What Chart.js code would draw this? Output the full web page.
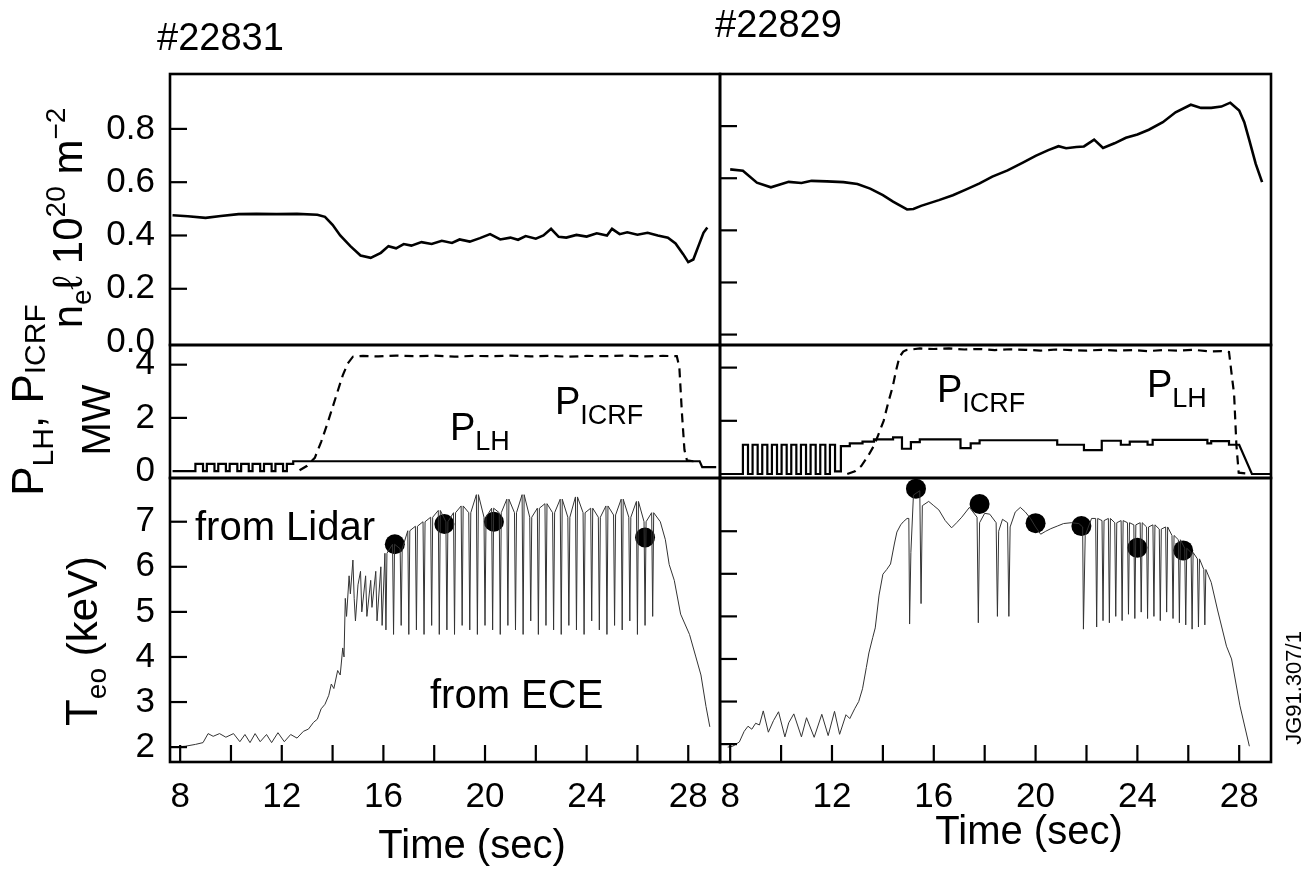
<!DOCTYPE html>
<html lang="en">
<head>
<meta charset="utf-8" />
<title>#22831 / #22829</title>
<script src="https://cdn.jsdelivr.net/npm/chart.js"></script>
<style>
  body { margin: 0; background: #fff; }
  #fig { position: relative; width: 1313px; height: 869px; overflow: hidden; background: #fff; }
  #fig canvas { position: absolute; }
</style>
</head>
<body>
<div id="fig">
  <canvas id="nL" width="722" height="390" style="left:0;top:0"></canvas>
  <canvas id="pL" width="722" height="250" style="left:0;top:270px"></canvas>
  <canvas id="tL" width="722" height="439" style="left:0;top:430px"></canvas>
  <canvas id="nR" width="613" height="390" style="left:700px;top:0"></canvas>
  <canvas id="pR" width="613" height="250" style="left:700px;top:270px"></canvas>
  <canvas id="tR" width="613" height="439" style="left:700px;top:430px"></canvas>
</div>

<script>
// ---- axes ----
const timeTicks = [8, 10, 12, 14, 16, 18, 20, 22, 24, 26, 28];
const neTicks = [0, 0.2, 0.4, 0.6, 0.8];
const powerTicks = [0, 2, 4];
const teTicks = [2, 3, 4, 5, 6, 7];

// ---- #22831 (left) ----
// line density n_e l (1e20 m^-2)
const neLeft = [[7.7,0.476],[8.3,0.472],[9.0,0.466],[9.6,0.473],[10.3,0.48],[11.0,0.481],[11.8,0.48],
  [12.6,0.481],[13.4,0.478],[13.7,0.47],[14.0,0.44],[14.3,0.40],[14.7,0.36],[15.1,0.325],[15.5,0.316],
  [15.9,0.335],[16.2,0.36],[16.5,0.352],[16.8,0.368],[17.1,0.362],[17.5,0.375],[17.9,0.368],[18.3,0.38],
  [18.7,0.372],[19.0,0.385],[19.4,0.377],[19.8,0.39],[20.2,0.405],[20.6,0.385],[21.0,0.392],[21.3,0.384],
  [21.6,0.398],[22.0,0.388],[22.3,0.40],[22.6,0.425],[22.9,0.395],[23.2,0.392],[23.6,0.402],[24.0,0.396],
  [24.4,0.408],[24.8,0.40],[25.0,0.425],[25.3,0.405],[25.6,0.412],[26.0,0.403],[26.4,0.41],[26.8,0.40],
  [27.2,0.392],[27.5,0.37],[27.8,0.33],[28.0,0.30],[28.2,0.31],[28.4,0.36],[28.6,0.41],[28.75,0.43]];
// P_LH (solid) and P_ICRF (dashed), MW
const pLhLeft = [[7.7,0],[8.6,0],[8.6,0.27],[8.9,0.27],[8.9,0],[9.05,0],[9.05,0.27],[9.35,0.27],[9.35,0],
  [9.5,0],[9.5,0.27],[9.8,0.27],[9.8,0],[9.95,0],[9.95,0.27],[10.25,0.27],[10.25,0],[10.4,0],[10.4,0.27],
  [10.7,0.27],[10.7,0],[10.85,0],[10.85,0.27],[11.15,0.27],[11.15,0],[11.3,0],[11.3,0.27],[11.6,0.27],
  [11.6,0],[11.75,0],[11.75,0.27],[12.05,0.27],[12.05,0],[12.2,0],[12.2,0.27],[12.45,0.27],[12.45,0.37],
  [28.45,0.37],[28.55,0.15],[29.1,0.15]];
const pIcrfLeft = [[12.7,0.03],[13.0,0.2],[13.3,0.5],[13.55,1.1],[13.8,1.8],[14.0,2.4],[14.2,3.0],[14.4,3.6],
  [14.6,4.05],[14.8,4.3],[15.2,4.33],[15.8,4.31],[16.5,4.34],[17.2,4.32],[18.0,4.34],[18.8,4.3],[19.5,4.33],
  [20.3,4.32],[21.0,4.34],[21.8,4.31],[22.5,4.33],[23.3,4.3],[24.0,4.33],[24.8,4.32],[25.5,4.34],[26.3,4.31],
  [27.0,4.33],[27.55,4.32],[27.65,3.9],[27.75,2.2],[27.85,0.8],[27.95,0.4],[28.2,0.37],[28.45,0.37]];
// Te0 from ECE (keV): rise, sawtooth crashes [t, top, bottom], decay
const teLeftHead = [[7.7,2.0],[8.2,2.02],[8.6,2.06],[8.9,2.1],[9.1,2.3],[9.3,2.24],[9.55,2.3],[9.8,2.22],
  [10.1,2.3],[10.35,2.12],[10.55,2.28],[10.75,2.1],[10.95,2.3],[11.15,2.12],[11.4,2.28],[11.6,2.1],
  [11.85,2.32],[12.1,2.12],[12.35,2.28],[12.6,2.2],[12.85,2.35],[13.05,2.4],[13.25,2.55],[13.4,2.62],
  [13.55,2.85],[13.7,2.95],[13.85,3.15],[13.95,3.4],[14.05,3.3],[14.2,3.7],[14.3,3.6],[14.4,4.2],
  [14.45,4.0],[14.5,5.3],[14.55,4.9],[14.65,5.8],[14.7,5.4],[14.8,6.15],[14.85,5.3],[14.9,4.8],[15.0,5.6],
  [15.1,5.9],[15.15,5.0],[15.3,5.8],[15.35,4.9],[15.5,5.7],[15.55,5.1],[15.7,5.9],[15.75,4.8],[15.9,6.0],
  [15.95,4.7]];
const teLeftCrash = [[16.1,6.3,4.6],[16.4,6.5,4.5],[16.7,6.4,4.7],[17.0,6.8,4.5],[17.3,6.9,4.6],[17.6,7.0,4.5],
  [17.9,7.1,4.7],[18.2,7.25,4.5],[18.5,7.0,4.6],[18.8,7.2,4.5],[19.1,7.35,4.7],[19.4,7.2,4.6],[19.7,7.6,4.5],
  [20.0,7.1,4.7],[20.3,7.3,4.6],[20.6,7.2,4.5],[20.9,7.5,4.7],[21.2,7.2,4.6],[21.5,7.6,4.5],[21.8,7.1,4.8],
  [22.1,7.3,4.5],[22.4,7.4,4.7],[22.7,7.2,4.6],[23.0,7.5,4.5],[23.3,7.1,4.7],[23.6,7.55,4.6],[23.9,7.2,4.5],
  [24.2,7.3,4.8],[24.5,7.1,4.6],[24.8,7.35,4.5],[25.1,7.15,4.7],[25.4,7.5,4.6],[25.7,7.1,4.8],[26.0,7.45,4.5],
  [26.3,7.0,4.7],[26.6,7.2,4.9]];
const teLeftTail = [[26.9,7.0],[27.1,6.6],[27.25,6.05],[27.45,5.7],[27.7,4.95],[28.05,4.5],[28.3,4.0],
  [28.5,3.6],[28.7,2.9],[28.85,2.45]];
// Te0 from Lidar
const lidarLeft = [[16.45,6.5],[18.4,6.95],[20.35,7.0],[26.3,6.65]];

// ---- #22829 (right) ----
const neRight = [[8.0,0.634],[8.5,0.629],[9.05,0.583],[9.6,0.565],[10.3,0.586],[10.8,0.582],[11.2,0.59],
  [11.8,0.588],[12.45,0.585],[13.0,0.578],[13.5,0.56],[14.0,0.535],[14.4,0.51],[14.95,0.48],[15.2,0.482],
  [15.5,0.494],[16.2,0.516],[16.75,0.535],[17.3,0.558],[17.8,0.58],[18.3,0.606],[18.9,0.63],[19.5,0.66],
  [20.0,0.686],[20.5,0.708],[20.9,0.723],[21.2,0.715],[21.6,0.72],[21.9,0.722],[22.3,0.748],[22.65,0.716],
  [23.1,0.734],[23.55,0.755],[24.0,0.768],[24.45,0.786],[25.0,0.815],[25.5,0.853],[26.1,0.882],[26.5,0.87],
  [26.9,0.87],[27.3,0.875],[27.65,0.89],[28.0,0.86],[28.2,0.815],[28.4,0.745],[28.65,0.655],[28.9,0.585]];
const pLhRight = [[7.6,0],[8.5,0],[8.5,1.1],[8.7,1.1],[8.7,0],[8.88,0],[8.88,1.1],[9.08,1.1],[9.08,0],
  [9.26,0],[9.26,1.1],[9.46,1.1],[9.46,0],[9.64,0],[9.64,1.1],[9.84,1.1],[9.84,0],[10.02,0],[10.02,1.1],
  [10.22,1.1],[10.22,0],[10.4,0],[10.4,1.1],[10.6,1.1],[10.6,0],[10.78,0],[10.78,1.1],[10.98,1.1],[10.98,0],
  [11.16,0],[11.16,1.1],[11.36,1.1],[11.36,0],[11.54,0],[11.54,1.1],[11.74,1.1],[11.74,0],[11.92,0],
  [11.92,1.1],[12.12,1.1],[12.12,0.1],[12.35,0.1],[12.35,1.05],[12.7,1.05],[12.7,1.15],[13.2,1.15],[13.2,1.22],
  [13.65,1.22],[13.65,1.3],[14.4,1.3],[14.4,1.38],[14.75,1.38],[14.75,0.95],[15.1,0.95],[15.1,1.2],
  [15.45,1.2],[15.45,1.3],[17.05,1.3],[17.05,0.97],[17.45,0.97],[17.45,1.15],[17.8,1.15],[17.8,1.27],
  [20.85,1.27],[20.85,1.1],[21.9,1.1],[21.9,0.9],[22.6,0.9],[22.6,1.25],[23.35,1.25],[23.35,1.1],[23.7,1.1],
  [23.7,1.22],[24.4,1.22],[24.4,1.1],[24.6,1.1],[24.6,1.28],[26.75,1.28],[26.75,1.15],[26.9,1.15],
  [26.9,1.24],[27.6,1.24],[27.6,1.1],[28.0,1.1],[28.5,0],[29.3,0]];
const pIcrfRight = [[12.6,0.0],[12.9,0.1],[13.15,0.3],[13.4,0.65],[13.67,1.1],[13.85,1.55],[14.03,2.0],
  [14.2,2.65],[14.39,3.3],[14.52,3.9],[14.65,4.4],[14.8,4.6],[14.92,4.66],[15.46,4.72],[16.0,4.7],
  [16.6,4.72],[17.2,4.68],[17.8,4.7],[18.4,4.66],[19.0,4.69],[19.6,4.67],[20.2,4.64],[20.8,4.68],[21.4,4.66],
  [22.0,4.64],[22.6,4.67],[23.2,4.64],[23.8,4.66],[24.4,4.62],[25.0,4.66],[25.6,4.64],[26.2,4.67],[26.8,4.61],
  [27.3,4.62],[27.6,4.59],[27.71,3.7],[27.8,3.0],[27.89,1.1],[27.98,0.05],[28.5,0]];
const teRightHead = [[7.9,1.93],[8.1,1.95],[8.36,2.05],[8.55,2.3],[8.7,2.42],[8.85,2.35],[9.0,2.49],
  [9.15,2.45],[9.3,2.78],[9.5,2.28],[9.7,2.55],[9.9,2.76],[10.15,2.17],[10.3,2.5],[10.5,2.71],[10.8,2.17],
  [11.0,2.62],[11.3,2.16],[11.6,2.7],[11.85,2.2],[12.1,2.77],[12.3,2.23],[12.55,2.69],[12.7,2.6],[12.9,2.84],
  [13.05,3.0],[13.2,3.3],[13.35,3.8],[13.45,4.14],[13.6,4.5],[13.7,4.73],[13.85,5.5],[14.0,5.99],[14.15,6.1],
  [14.3,6.23],[14.45,6.7],[14.55,6.98],[14.7,7.15],[14.8,7.22],[14.95,7.3],[15.02,7.3],[15.05,4.82],
  [15.1,6.5],[15.2,7.85],[15.45,7.95],[15.5,5.3],[15.55,7.6],[15.8,7.7],[16.0,7.6],[16.2,7.5],[16.45,7.25],
  [16.7,7.08],[16.9,7.2],[17.1,7.33],[17.4,7.56],[17.7,7.33],[17.75,4.85],[17.8,7.2],[18.0,7.42],[18.2,7.4],
  [18.45,7.2],[18.5,5.0],[18.55,7.0],[18.7,7.28],[18.9,7.2],[18.95,5.0],[19.0,7.1],[19.2,7.45],[19.4,7.56],
  [19.6,7.45],[19.8,7.3],[20.0,7.1],[20.2,6.93],[20.4,7.0],[20.6,7.06],[20.85,7.12],[21.1,7.18],[21.4,7.2],
  [21.7,7.18],[21.85,7.1],[21.88,4.7],[21.95,6.9],[22.2,7.3]];
const teRightCrash = [[22.4,7.3,4.75],[22.65,7.25,4.9],[22.9,7.3,4.85],[23.15,7.2,5.0],[23.4,7.25,4.9],
  [23.65,7.2,5.05],[23.9,7.15,4.95],[24.15,7.2,5.1],[24.4,7.1,4.95],[24.65,7.15,5.0],[24.9,7.05,4.9],
  [25.15,7.1,5.1],[25.4,6.9,4.95],[25.65,6.8,4.85],[25.9,6.6,4.8],[26.15,6.5,4.7],[26.4,6.35,4.75],
  [26.65,6.1,4.8]];
const teRightTail = [[26.9,5.8],[27.15,5.15],[27.5,4.3],[27.7,4.0],[28.03,2.9],[28.4,1.95]];
const lidarRight = [[15.3,8.0],[17.8,7.64],[20.0,7.19],[21.8,7.12],[24.0,6.61],[25.8,6.55]];

// ---- helpers ----
const FONT = "'Liberation Sans', Arial, Helvetica, sans-serif";
const T_MIN = 7.6, T_MAX = 29.25;
const CRASH_HALF = 0.04; // half width of a drawn sawtooth crash (s)

const pts = arr => arr.map(([x, y]) => ({ x, y }));
// each crash drawn as a narrow downward spike from the envelope value
const sawtooth = (head, crash, tail) =>
  pts([...head,
       ...crash.flatMap(([t, top, bot]) => [[t - CRASH_HALF, top], [t, bot], [t + CRASH_HALF, top]]),
       ...tail]);

// frame around the panel and short inward tick marks
const frameTicks = {
  id: 'frameTicks',
  afterDatasetsDraw(chart) {
    const { ctx, chartArea: a, scales } = chart;
    ctx.save();
    ctx.strokeStyle = '#000';
    ctx.lineWidth = 2.6;
    ctx.strokeRect(a.left, a.top, a.right - a.left, a.bottom - a.top);
    ctx.lineWidth = 2.2;
    scales.y.ticks.forEach(t => {
      const py = scales.y.getPixelForValue(t.value);
      if (py > a.bottom - 8 || py < a.top + 8) return;
      ctx.beginPath(); ctx.moveTo(a.left, py); ctx.lineTo(a.left + 17, py); ctx.stroke();
    });
    if (scales.x.options.display) {
      scales.x.ticks.forEach(t => {
        const px = scales.x.getPixelForValue(t.value);
        ctx.beginPath(); ctx.moveTo(px, a.bottom); ctx.lineTo(px, a.bottom - 17); ctx.stroke();
      });
    }
    ctx.restore();
  }
};

// free text (page coordinates), optional rotation and sub/superscripts
function notesPlugin(notes) {
  return {
    id: 'notes',
    afterDraw(chart) {
      const ctx = chart.ctx;
      const ox = chart.canvas.offsetLeft, oy = chart.canvas.offsetTop;
      notes.forEach(n => {
        ctx.save();
        ctx.fillStyle = '#000';
        ctx.textBaseline = 'alphabetic';
        ctx.translate(n.x - ox, n.y - oy);
        if (n.rotate) ctx.rotate(-Math.PI / 2);
        let w = 0;
        n.parts.forEach(p => { ctx.font = p.size + 'px ' + FONT; w += ctx.measureText(p.t).width; });
        let x = n.align === 'center' ? -w / 2 : 0;
        n.parts.forEach(p => {
          ctx.font = p.size + 'px ' + FONT;
          ctx.fillText(p.t, x, p.dy || 0);
          x += ctx.measureText(p.t).width;
        });
        ctx.restore();
      });
    }
  };
}

function panel(id, o) {
  return new Chart(document.getElementById(id), {
    type: 'line',
    data: { datasets: o.datasets },
    options: {
      responsive: false,
      animation: false,
      devicePixelRatio: 1,
      events: [],
      layout: { padding: o.padding, autoPadding: false },
      plugins: { legend: { display: false }, tooltip: { enabled: false } },
      scales: {
        x: {
          type: 'linear', min: T_MIN, max: T_MAX, display: !!o.showX,
          afterBuildTicks: s => { s.ticks = timeTicks.map(v => ({ value: v })); },
          afterFit: s => {
            if (o.showX) s.height = 107;
            s.paddingLeft = 0; s.paddingRight = 0;   // keep the plot width fixed
          },
          // invisible tick marks only push the labels down (inward marks are drawn by frameTicks)
          grid: { display: true, drawOnChartArea: false, drawTicks: true, tickLength: 14, color: 'rgba(0,0,0,0)' },
          border: { display: false },
          ticks: {
            padding: 0, color: '#000', maxRotation: 0, autoSkip: false,
            font: { family: FONT, size: 35 },
            callback: v => (v % 4 === 0 ? String(v) : '')
          }
        },
        y: {
          type: 'linear', min: o.min, max: o.max,
          afterBuildTicks: s => { s.ticks = o.ticks.map(v => ({ value: v })); },
          afterFit: s => { s.width = o.axisW; s.paddingTop = 0; s.paddingBottom = 0; },
          grid: { display: false, drawTicks: false },
          border: { display: false },
          ticks: {
            display: !!o.labels, padding: 15, color: '#000',
            font: { family: FONT, size: 35 },
            callback: o.fmt || (v => String(v))
          }
        }
      }
    },
    plugins: [frameTicks, notesPlugin(o.notes || [])]
  });
}

const solid = (data, w) => ({ data: pts(data), borderColor: '#000', borderWidth: w || 2.6, pointRadius: 0, tension: 0, fill: false });
const dashed = data => ({ data: pts(data), borderColor: '#000', borderWidth: 2.2, borderDash: [9, 6], pointRadius: 0, tension: 0, fill: false });
const ece = (head, crash, tail) => ({ data: sawtooth(head, crash, tail), borderColor: '#333', borderWidth: 1, pointRadius: 0, tension: 0, fill: false });
const lidar = data => ({ data: pts(data), showLine: false, pointRadius: 10, pointBackgroundColor: '#000', pointBorderWidth: 0, clip: false });

// ---- left column, #22831 ----
panel('nL', {
  datasets: [solid(neLeft)], min: -0.011, max: 1.006, ticks: neTicks, labels: true,
  fmt: v => v.toFixed(1), axisW: 170, padding: { top: 74, bottom: 45, right: 2, left: 0 },
  notes: [
    { x: 157, y: 50, parts: [{ t: '#22831', size: 38 }] },
    { x: 82, y: 218, rotate: true, align: 'center', parts: [
      { t: 'n', size: 42 }, { t: 'e', size: 28, dy: 9 }, { t: '\u2113', size: 42 }, { t: ' 10', size: 42 },
      { t: '20', size: 28, dy: -17 }, { t: ' m', size: 42 }, { t: '\u22122', size: 28, dy: -17 }] }
  ]
});
panel('pL', {
  datasets: [solid(pLhLeft, 2.2), dashed(pIcrfLeft)], min: -0.26, max: 4.74, ticks: powerTicks, labels: true,
  axisW: 170, padding: { top: 75, bottom: 42, right: 2, left: 0 },
  notes: [
    { x: 43, y: 400, rotate: true, align: 'center', parts: [
      { t: 'P', size: 44 }, { t: 'LH', size: 30, dy: 10 }, { t: ', ', size: 44 }, { t: 'P', size: 44 }, { t: 'ICRF', size: 30, dy: 2 }] },
    { x: 110, y: 420, rotate: true, align: 'center', parts: [{ t: 'MW', size: 40 }] },
    { x: 450, y: 440, parts: [{ t: 'P', size: 38 }, { t: 'LH', size: 27, dy: 10 }] },
    { x: 555, y: 414, parts: [{ t: 'P', size: 38 }, { t: 'ICRF', size: 27, dy: 10 }] }
  ]
});
panel('tL', {
  datasets: [ece(teLeftHead, teLeftCrash, teLeftTail), lidar(lidarLeft)], min: 1.67, max: 7.97,
  ticks: teTicks, labels: true, showX: true, axisW: 170, padding: { top: 48, bottom: 0, right: 2, left: 0 },
  notes: [
    { x: 97, y: 641, rotate: true, align: 'center', parts: [
      { t: 'T', size: 44 }, { t: 'eo', size: 28, dy: 9 }, { t: ' (keV)', size: 42 }] },
    { x: 195, y: 540, parts: [{ t: 'from Lidar', size: 40 }] },
    { x: 430, y: 708, parts: [{ t: 'from ECE', size: 40 }] },
    { x: 472, y: 858, align: 'center', parts: [{ t: 'Time (sec)', size: 40 }] }
  ]
});

// ---- right column, #22829 ----
panel('nR', {
  datasets: [solid(neRight)], min: -0.04, max: 1.0, ticks: neTicks, labels: false,
  axisW: 20, padding: { top: 74, bottom: 45, right: 42, left: 0 },
  notes: [{ x: 715, y: 37, parts: [{ t: '#22829', size: 38 }] }]
});
panel('pR', {
  datasets: [solid(pLhRight, 2.2), dashed(pIcrfRight)], min: -0.15, max: 4.85, ticks: powerTicks, labels: false,
  axisW: 20, padding: { top: 75, bottom: 42, right: 42, left: 0 },
  notes: [
    { x: 937, y: 402, parts: [{ t: 'P', size: 38 }, { t: 'ICRF', size: 27, dy: 10 }] },
    { x: 1147, y: 397, parts: [{ t: 'P', size: 38 }, { t: 'LH', size: 27, dy: 10 }] }
  ]
});
panel('tR', {
  datasets: [ece(teRightHead, teRightCrash, teRightTail), lidar(lidarRight)], min: 1.58, max: 8.25,
  ticks: teTicks, labels: false, showX: true, axisW: 20, padding: { top: 48, bottom: 0, right: 42, left: 0 },
  notes: [
    { x: 1029, y: 844, align: 'center', parts: [{ t: 'Time (sec)', size: 40 }] },
    { x: 1301, y: 688, rotate: true, align: 'center', parts: [{ t: 'JG91.307/1', size: 22 }] }
  ]
});
</script>
</body>
</html>
